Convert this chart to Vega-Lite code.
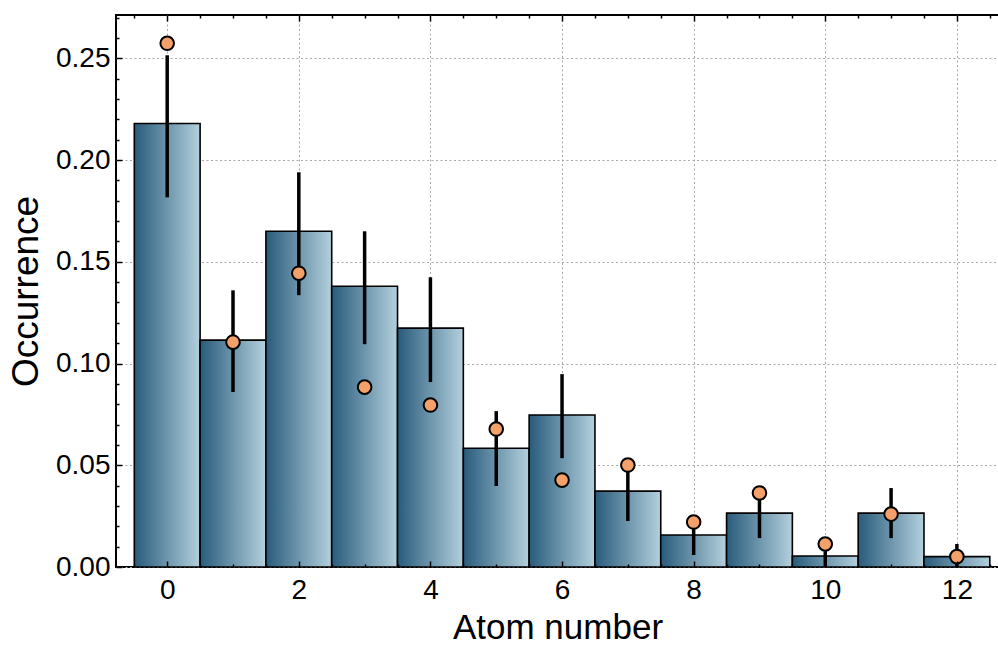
{
  "$schema": "https://vega.github.io/schema/vega-lite/v6.json",
  "width": 883,
  "height": 552,
  "autosize": "none",
  "padding": {"left": 116, "top": 15, "right": 0, "bottom": 81},
  "background": "white",
  "config": {
    "font": "Liberation Sans",
    "view": {"stroke": "black", "strokeWidth": 2},
    "axis": {"labelFont": "Liberation Sans", "titleFont": "Liberation Sans", "labelColor": "black", "titleColor": "black", "titleFontWeight": "normal"}
  },
  "data": {
    "values": [
      {"n": 0, "occ": 0.218, "lo": 0.1817, "hi": 0.2515, "p": 0.2574},
      {"n": 1, "occ": 0.1115, "lo": 0.086, "hi": 0.136, "p": 0.1105},
      {"n": 2, "occ": 0.165, "lo": 0.1336, "hi": 0.194, "p": 0.1444},
      {"n": 3, "occ": 0.138, "lo": 0.1095, "hi": 0.165, "p": 0.0884},
      {"n": 4, "occ": 0.1174, "lo": 0.0909, "hi": 0.1424, "p": 0.0796},
      {"n": 5, "occ": 0.0584, "lo": 0.0398, "hi": 0.0766, "p": 0.0678},
      {"n": 6, "occ": 0.0747, "lo": 0.0535, "hi": 0.0948, "p": 0.0427},
      {"n": 7, "occ": 0.0373, "lo": 0.0226, "hi": 0.051, "p": 0.0501},
      {"n": 8, "occ": 0.0157, "lo": 0.0059, "hi": 0.025, "p": 0.0221},
      {"n": 9, "occ": 0.0265, "lo": 0.0142, "hi": 0.038, "p": 0.0364},
      {"n": 10, "occ": 0.0054, "lo": 0.0, "hi": 0.0078, "p": 0.0113},
      {"n": 11, "occ": 0.0265, "lo": 0.0142, "hi": 0.0388, "p": 0.026},
      {"n": 12, "occ": 0.0051, "lo": 0.0, "hi": 0.0113, "p": 0.0051}
    ]
  },
  "resolve": {"axis": {"x": "independent", "y": "independent"}},
  "layer": [
    {
      "mark": {
        "type": "bar",
        "width": 65.8,
        "stroke": "black",
        "strokeWidth": 1.6,
        "fill": {
          "gradient": "linear",
          "x1": 0, "y1": 0, "x2": 1, "y2": 0,
          "stops": [
            {"offset": 0, "color": "#285b7b"},
            {"offset": 1, "color": "#b3d0dd"}
          ]
        }
      },
      "encoding": {
        "x": {
          "field": "n", "type": "quantitative",
          "scale": {"domain": [-0.778, 12.64], "nice": false, "zero": false, "padding": 0},
          "axis": {
            "orient": "bottom", "zindex": 0, "values": [0, 2, 4, 6, 8, 10, 12],
            "grid": true, "gridColor": "#a8a8a8", "gridDash": [2, 2.5], "gridWidth": 1,
            "ticks": false, "domain": false, "labelFontSize": 28, "labelPadding": 9,
            "title": "Atom number", "titleFontSize": 35, "titlePadding": 6
          }
        },
        "y": {
          "field": "occ", "type": "quantitative",
          "scale": {"domain": [0, 0.2713], "nice": false, "zero": true, "padding": 0},
          "axis": {
            "orient": "left", "zindex": 0, "values": [0, 0.05, 0.1, 0.15, 0.2, 0.25],
            "format": ".2f",
            "grid": true, "gridColor": "#a8a8a8", "gridDash": [2, 2.5], "gridWidth": 1,
            "ticks": false, "domain": false, "labelFontSize": 28, "labelPadding": 6,
            "title": "Occurrence", "titleFontSize": 37, "titlePadding": 10
          }
        }
      }
    },
    {
      "mark": {"type": "rule", "color": "black", "strokeWidth": 3.5},
      "encoding": {
        "x": {
          "field": "n", "type": "quantitative",
          "axis": {
            "orient": "bottom", "zindex": 1,
            "values": [-0.5, 0, 0.5, 1, 1.5, 2, 2.5, 3, 3.5, 4, 4.5, 5, 5.5, 6, 6.5, 7, 7.5, 8, 8.5, 9, 9.5, 10, 10.5, 11, 11.5, 12, 12.5],
            "grid": false, "labels": false, "domain": false, "title": null,
            "tickColor": "black", "tickWidth": 1.5,
            "tickSize": {"condition": {"test": "datum.value % 2 === 0", "value": -6}, "value": -3}
          }
        },
        "y": {
          "field": "lo", "type": "quantitative",
          "axis": {
            "orient": "left", "zindex": 1,
            "values": [0, 0.01, 0.02, 0.03, 0.04, 0.05, 0.06, 0.07, 0.08, 0.09, 0.1, 0.11, 0.12, 0.13, 0.14, 0.15, 0.16, 0.17, 0.18, 0.19, 0.2, 0.21, 0.22, 0.23, 0.24, 0.25, 0.26, 0.27],
            "grid": false, "labels": false, "domain": false, "title": null,
            "tickColor": "black", "tickWidth": 1.5,
            "tickSize": {"condition": {"test": "round(datum.value * 100) % 5 === 0", "value": -6}, "value": -3}
          }
        },
        "y2": {"field": "hi"}
      }
    },
    {
      "mark": {"type": "point", "filled": true, "fill": "#f4a06b", "stroke": "black", "strokeWidth": 2, "size": 185, "opacity": 1, "shape": "circle"},
      "encoding": {
        "x": {
          "field": "n", "type": "quantitative",
          "axis": {
            "orient": "top", "zindex": 1,
            "values": [-0.5, 0, 0.5, 1, 1.5, 2, 2.5, 3, 3.5, 4, 4.5, 5, 5.5, 6, 6.5, 7, 7.5, 8, 8.5, 9, 9.5, 10, 10.5, 11, 11.5, 12, 12.5],
            "grid": false, "labels": false, "domain": false, "title": null,
            "tickColor": "black", "tickWidth": 1.5,
            "tickSize": {"condition": {"test": "datum.value % 2 === 0", "value": -6}, "value": -3}
          }
        },
        "y": {"field": "p", "type": "quantitative", "axis": null}
      }
    }
  ]
}
